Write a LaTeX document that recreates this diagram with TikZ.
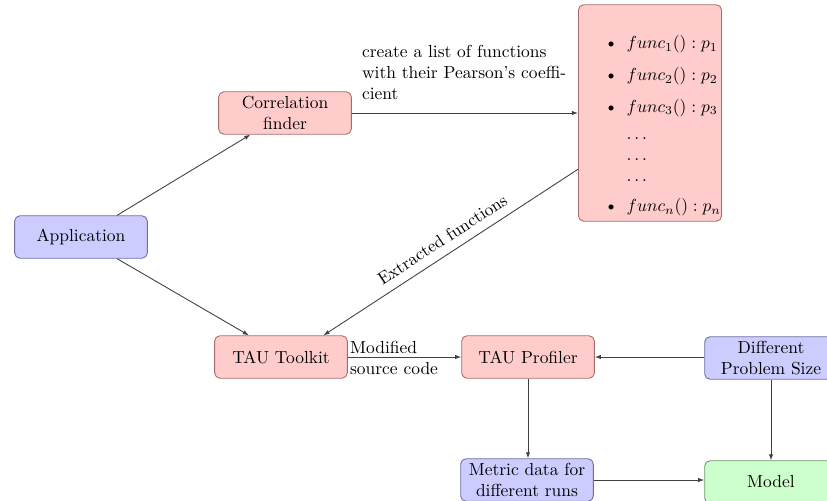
\documentclass[tikz,border=0pt]{standalone}
\usetikzlibrary{arrows.meta}
\definecolor{rfill}{HTML}{FFCCCC}
\definecolor{rdraw}{HTML}{A86A6A}
\definecolor{bfill}{HTML}{CCCCFF}
\definecolor{bdraw}{HTML}{6E6EA0}
\definecolor{gfill}{HTML}{CCFFCC}
\definecolor{gdraw}{HTML}{6A9A6A}
\tikzset{
  box/.style={rounded corners=3pt, minimum width=76pt, minimum height=24.3pt, align=center, inner sep=2pt, line width=0.5pt},
  rbox/.style={box, fill=rfill, draw=rdraw},
  bbox/.style={box, fill=bfill, draw=bdraw},
  gbox/.style={box, fill=gfill, draw=gdraw},
  conn/.style={-{Latex[length=3.5pt,width=2.5pt]}, draw=black!75, line width=0.5pt},
  lbl/.style={align=left, inner sep=1pt, font=\normalsize}
}
\begin{document}
\begin{tikzpicture}[x=0.573pt, y=-0.573pt]
\useasboundingbox (0,0) rectangle (827,501);
\node[bbox] (app) at (81,237) {Application};
\node[rbox] (corr) at (285,113) {Correlation\\finder};
\node[rbox, minimum width=82pt, minimum height=124pt] (list) at (650,113) {};
\node[anchor=west, inner sep=0pt] (listtext) at (604,126) {%
  \renewcommand{\arraystretch}{1}%
  \begin{tabular}{@{}l@{\hspace{5pt}}l@{}}
  \textbullet & $func_1() : p_1$\\[6.2pt]
  \textbullet & $func_2() : p_2$\\[6.2pt]
  \textbullet & $func_3() : p_3$\\[3.6pt]
   & $\dots$\\
   & $\dots$\\
   & $\dots$\\[5.3pt]
  \textbullet & $func_n() : p_n$
  \end{tabular}};
\node[rbox] (tauT) at (281,357) {TAU Toolkit};
\node[rbox] (tauP) at (528,357) {TAU Profiler};
\node[bbox] (dps) at (771,358) {Different\\Problem Size};
\node[bbox] (metric) at (527,480) {Metric data for\\different runs};
\node[gbox] (model) at (771,482) {Model};

\draw[conn] (app.31) -- (corr.212);
\draw[conn] (app.-31) -- (tauT.146);
\draw[conn] (corr.east) -- (corr.east -| list.west);
\node[lbl, anchor=north west] (lcreate) at (360,43) {create a list of functions\\with their Pearson's coeffi-\\cient};
\draw[conn] (list.218) -- node[midway, sloped, above=4pt, inner sep=1pt] (lext) {Extracted functions} (tauT.27);
\draw[conn] (tauT.east) -- (tauP.west);
\node[lbl, anchor=west] (lmod) at (348,358) {Modified\\source code};
\draw[conn] (dps.west |- tauP.east) -- (tauP.east);
\draw[conn] (tauP.south) -- (metric.north -| tauP.south);
\draw[conn] (metric.east) -- (metric.east -| model.west);
\draw[conn] (dps.south) -- (model.north);
\end{tikzpicture}
\end{document}
